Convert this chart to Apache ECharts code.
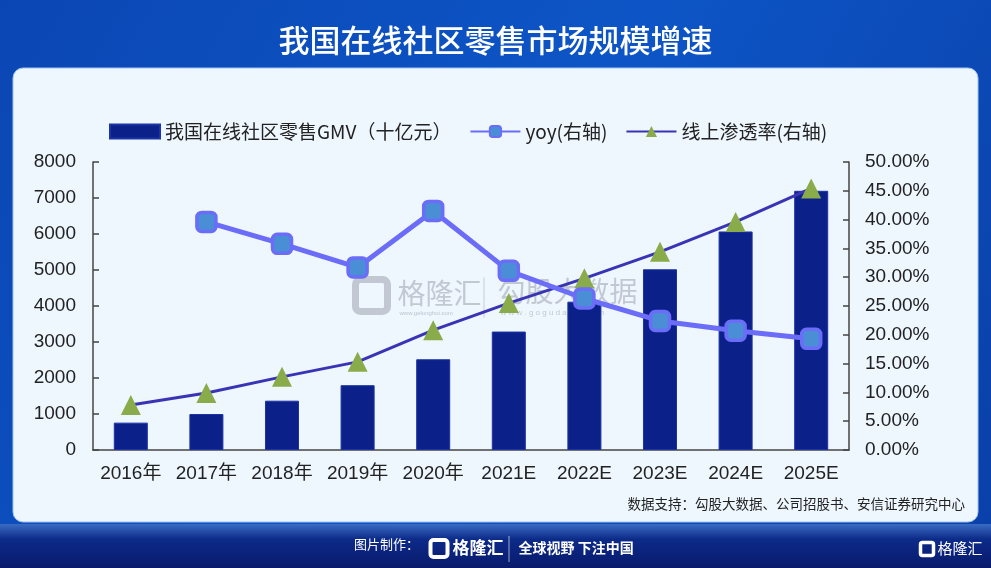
<!DOCTYPE html>
<html>
<head>
<meta charset="utf-8">
<script src="https://cdn.jsdelivr.net/npm/echarts@6/dist/echarts.min.js"></script>
<style>
html,body{margin:0;padding:0;background:#0a3fa8;}
#main{width:991px;height:568px;}
</style>
</head>
<body>
<div id="main"></div>
<script>
// ---- data ----
var categories = ['2016年','2017年','2018年','2019年','2020年','2021E','2022E','2023E','2024E','2025E'];
var gmv = [760, 1000, 1370, 1800, 2520, 3290, 4120, 5020, 6070, 7200];
var yoy = [null, 39.6, 35.8, 31.7, 41.5, 31.1, 26.3, 22.4, 20.7, 19.3];
var penetration = [7.8, 9.9, 12.7, 15.3, 20.8, 25.5, 29.8, 34.4, 39.6, 45.4];
var seriesNames = ['我国在线社区零售GMV（十亿元）', 'yoy(右轴)', '线上渗透率(右轴)'];
var titleText = '我国在线社区零售市场规模增速';
var sourceText = '数据支持：勾股大数据、公司招股书、安信证券研究中心';

var FONT = '"Liberation Sans", Arial, "Noto Sans CJK SC", sans-serif';
var CJK = '"Noto Sans CJK SC", "Liberation Sans", sans-serif';

var chart = echarts.init(document.getElementById('main'));
chart.setOption({
  backgroundColor: 'transparent',
  animation: false,
  textStyle: { fontFamily: FONT },
  graphic: [
    { type: 'rect', z: -20, silent: true, shape: { x: 0, y: 0, width: 991, height: 568 },
      style: { fill: new echarts.graphic.LinearGradient(0, 0, 1, 1, [
        { offset: 0, color: '#0b47b4' }, { offset: 0.5, color: '#0d55c6' }, { offset: 1, color: '#0a3fa8' }]) } },
    { type: 'rect', z: -19, silent: true, shape: { x: 0, y: 524, width: 991, height: 44 },
      style: { fill: new echarts.graphic.LinearGradient(0, 0, 0, 1, [
        { offset: 0, color: '#3a6cc4' }, { offset: 0.35, color: '#0c2a88' }, { offset: 1, color: '#091a6c' }]) } },
    { type: 'rect', z: -18, silent: true, shape: { x: 13, y: 68, width: 965, height: 454, r: 10 },
      style: { fill: '#eef6fe', stroke: '#9fc3f2', lineWidth: 1 } },
    { type: 'text', z: 10, silent: true, left: 'center', top: 25,
      style: { text: titleText, fill: '#ffffff', font: '500 31px ' + CJK } },
    { type: 'text', z: 10, silent: true, right: 26, top: 497,
      style: { text: sourceText, fill: '#222222', font: '13.5px ' + CJK } },
    // watermark
    { type: 'group', z: 50, silent: true, left: 352, top: 276, children: [
      { type: 'rect', shape: { x: 0, y: 2, width: 32, height: 32, r: 5 }, style: { fill: 'none', stroke: 'rgba(140,145,155,0.45)', lineWidth: 7 } },
      { type: 'text', style: { x: 42, y: 2, text: '格隆汇', fill: 'rgba(140,145,155,0.45)', font: '28px ' + CJK } },
      { type: 'text', style: { x: 44, y: 33, text: 'www.gelonghui.com', fill: 'rgba(140,145,155,0.5)', font: '6px ' + FONT } },
      { type: 'rect', shape: { x: 128, y: 0, width: 1, height: 40 }, style: { fill: 'rgba(140,145,155,0.4)' } },
      { type: 'text', style: { x: 142, y: 0, text: '勾股大数据', fill: 'rgba(140,145,155,0.45)', font: '28px ' + CJK } },
      { type: 'text', style: { x: 145, y: 31, text: 'w w w . g o g u d a t a . c o m', fill: 'rgba(140,145,155,0.45)', font: '8px ' + FONT } }
    ] },
    // footer
    { type: 'text', z: 10, silent: true, left: 354, top: 538,
      style: { text: '图片制作：', fill: '#ffffff', font: '13px ' + CJK } },
    { type: 'group', z: 10, silent: true, left: 428, top: 536, children: [
      { type: 'rect', shape: { x: 0, y: 1, width: 17, height: 17, r: 3 }, style: { fill: 'none', stroke: '#ffffff', lineWidth: 4 } },
      { type: 'text', style: { x: 22, y: 0, text: '格隆汇', fill: '#ffffff', font: 'bold 17px ' + CJK } },
      { type: 'rect', shape: { x: 78, y: -3, width: 1, height: 26 }, style: { fill: 'rgba(255,255,255,0.6)' } },
      { type: 'text', style: { x: 88, y: 2, text: '全球视野 下注中国', fill: '#ffffff', font: 'bold 14px ' + CJK } }
    ] },
    { type: 'group', z: 10, silent: true, left: 918, top: 540, children: [
      { type: 'rect', shape: { x: 0, y: 1, width: 13, height: 13, r: 2 }, style: { fill: 'none', stroke: '#ffffff', lineWidth: 3.5 } },
      { type: 'text', style: { x: 17, y: -1, text: '格隆汇', fill: '#ffffff', font: '15px ' + CJK } }
    ] }
  ],
  legend: {
    top: 117, left: 104,
    itemWidth: 50, itemHeight: 14, itemGap: 18,
    textStyle: { fontSize: 19, color: '#222', fontFamily: CJK },
    data: [
      { name: seriesNames[0], icon: 'rect' },
      { name: seriesNames[1] },
      { name: seriesNames[2] }
    ]
  },
  grid: { left: 93, right: 142, top: 162, bottom: 118, containLabel: false },
  xAxis: {
    type: 'category', data: categories,
    axisLine: { lineStyle: { color: '#444', width: 1.5 } },
    axisTick: { inside: true, length: 6, lineStyle: { color: '#444', width: 1.5 } },
    axisLabel: { color: '#222', fontSize: 19, margin: 14, fontFamily: FONT, interval: 0 }
  },
  yAxis: [
    { type: 'value', min: 0, max: 8000, interval: 1000,
      axisLine: { show: true, lineStyle: { color: '#444', width: 1.5 } },
      axisTick: { show: true, inside: true, length: 6, lineStyle: { color: '#444', width: 1.5 } },
      splitLine: { show: false },
      axisLabel: { color: '#222', fontSize: 19, margin: 17, fontFamily: FONT,
        formatter: function (v) { return String(v); } } },
    { type: 'value', min: 0, max: 50, interval: 5, position: 'right',
      axisLine: { show: true, lineStyle: { color: '#444', width: 1.5 } },
      axisTick: { show: true, inside: true, length: 6, lineStyle: { color: '#444', width: 1.5 } },
      splitLine: { show: false },
      axisLabel: { color: '#222', fontSize: 19, margin: 16, fontFamily: FONT,
        formatter: function (v) { return v.toFixed(2) + '%'; } } }
  ],
  series: [
    { name: seriesNames[0], type: 'bar', data: gmv, barWidth: '45%', yAxisIndex: 0,
      itemStyle: { color: '#0c208a', borderColor: '#1c33a6', borderWidth: 1 } },
    { name: seriesNames[1], type: 'line', data: yoy, yAxisIndex: 1, z: 4,
      symbol: 'roundRect', symbolSize: 19, showAllSymbol: true,
      lineStyle: { color: '#6b6cf8', width: 5 },
      itemStyle: { color: '#4a8fd6', borderColor: '#6b6cf8', borderWidth: 3.5 } },
    { name: seriesNames[2], type: 'line', data: penetration, yAxisIndex: 1, z: 3,
      symbol: 'triangle', symbolSize: 20, showAllSymbol: true,
      lineStyle: { color: '#3934b6', width: 3 },
      itemStyle: { color: '#8aab4a' } }
  ]
});
</script>
</body>
</html>
